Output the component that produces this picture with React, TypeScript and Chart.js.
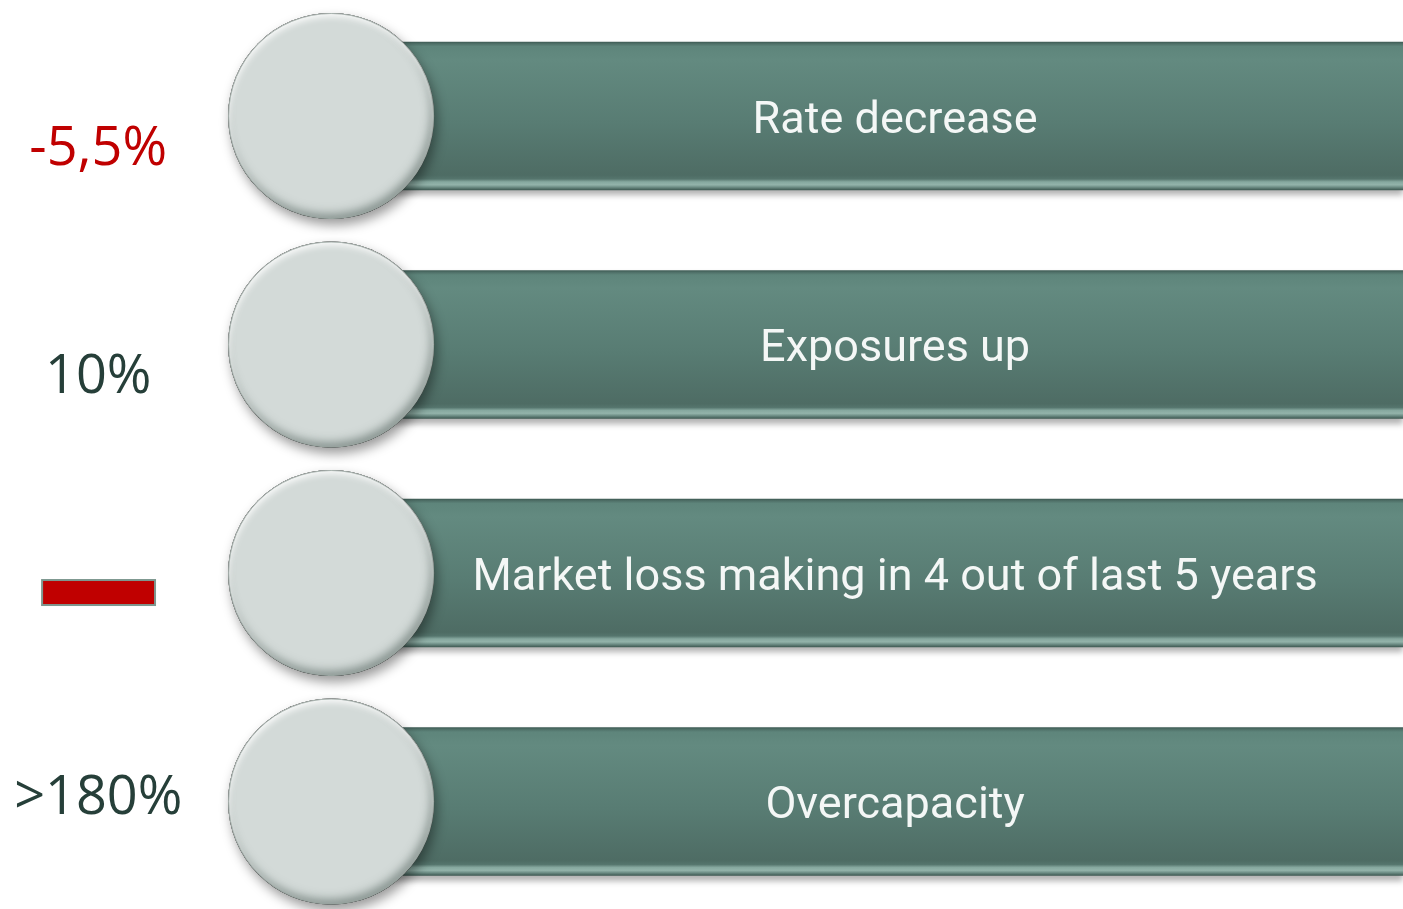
import React, { useEffect, useRef } from 'react';
import { Chart, registerables } from 'chart.js';

Chart.register(...registerables);

// ---- data ----
const rowLabels = [
  'Rate decrease',
  'Exposures up',
  'Market loss making in 4 out of last 5 years',
  'Overcapacity',
];
const rowIndex = [0, 1, 2, 3];
const sideLabels = ['-5,5%', '10%', '', '>180%'];
const sideIsMarker = [false, false, true, false];
const sideColors = ['#c00000', '#263f39', '#c00000', '#263f39'];

// ---- layout (value-space positions on a 0..100 horizontal scale) ----
const LAYOUT = {
  barStart: 26,
  barEnd: 100,
  circleX: 23.6,
  textX: 63.8,
  sideX: 7.0,
  markerFrom: 3.0,
  markerTo: 11.05,
  sideBaselineOffsets: [49, 48.5, 0, 12],
  markerTop: 7,
  markerBottom: 32,
};

const barColor = (c: any) => {
  const chart = c.chart;
  const ys = chart.scales && chart.scales.y;
  if (!ys || c.type !== 'data') return '#5a7e74';
  const yc = ys.getPixelForValue(rowIndex[c.dataIndex]);
  if (!isFinite(yc)) return '#5a7e74';
  const top = yc - 74;
  const bot = yc + 74;
  const g = chart.ctx.createLinearGradient(0, top, 0, bot);
  g.addColorStop(0, '#3f5c55');
  g.addColorStop(0.012, '#4f7068');
  g.addColorStop(0.03, '#5e857b');
  g.addColorStop(0.12, '#638a80');
  g.addColorStop(0.55, '#587c73');
  g.addColorStop(0.9, '#4e6c64');
  g.addColorStop(0.925, '#55756d');
  g.addColorStop(0.945, '#86a89f');
  g.addColorStop(0.965, '#93b3aa');
  g.addColorStop(0.98, '#6f8f87');
  g.addColorStop(1, '#3f5a53');
  return g;
};

const decorPlugin = {
  id: 'decor',
  beforeDatasetDraw(chart: any, args: any) {
    const ctx = chart.ctx;
    ctx.save();
    const type = chart.data.datasets[args.index].type;
    if (type === 'bar') {
      ctx.shadowColor = 'rgba(0,0,0,0.30)';
      ctx.shadowBlur = 6;
      ctx.shadowOffsetX = 0;
      ctx.shadowOffsetY = 5;
    } else if (type === 'bubble') {
      ctx.shadowColor = 'rgba(0,0,0,0.40)';
      ctx.shadowBlur = 12;
      ctx.shadowOffsetX = 3;
      ctx.shadowOffsetY = 6;
    }
  },
  afterDatasetDraw(chart: any, args: any) {
    const ctx = chart.ctx;
    ctx.restore();
    const type = chart.data.datasets[args.index].type;
    if (type !== 'bubble') return;
    const meta = chart.getDatasetMeta(args.index);
    meta.data.forEach((el: any) => {
      const x = el.x;
      const y = el.y;
      const r = el.options.radius;
      ctx.save();
      ctx.beginPath();
      ctx.arc(x, y, r, 0, Math.PI * 2);
      ctx.clip();
      // dark inner shadow (lower right)
      ctx.beginPath();
      ctx.rect(x - r - 60, y - r - 60, 2 * r + 120, 2 * r + 120);
      ctx.arc(x, y, r, 0, Math.PI * 2, true);
      ctx.fillStyle = '#000';
      ctx.shadowColor = 'rgba(70,85,80,0.55)';
      ctx.shadowBlur = 10;
      ctx.shadowOffsetX = -3;
      ctx.shadowOffsetY = -5;
      ctx.fill();
      // light inner highlight (upper left)
      ctx.beginPath();
      ctx.rect(x - r - 60, y - r - 60, 2 * r + 120, 2 * r + 120);
      ctx.arc(x, y, r, 0, Math.PI * 2, true);
      ctx.shadowColor = 'rgba(255,255,255,0.9)';
      ctx.shadowBlur = 6;
      ctx.shadowOffsetX = 1;
      ctx.shadowOffsetY = 4;
      ctx.fill();
      ctx.restore();
      ctx.save();
      ctx.beginPath();
      ctx.arc(x, y, r - 0.5, 0, Math.PI * 2);
      ctx.strokeStyle = 'rgba(150,162,158,0.8)';
      ctx.lineWidth = 1;
      ctx.stroke();
      ctx.restore();
    });
  },
  afterDatasetsDraw(chart: any) {
    const ctx = chart.ctx;
    const xs = chart.scales.x;
    const ys = chart.scales.y;
    ctx.save();
    // bar texts
    ctx.fillStyle = '#f4f7f6';
    ctx.font = '45px Roboto';
    ctx.textAlign = 'center';
    ctx.textBaseline = 'alphabetic';
    rowLabels.forEach((t, i) => {
      const yc = ys.getPixelForValue(rowIndex[i]);
      ctx.fillText(t, xs.getPixelForValue(LAYOUT.textX), yc + 16.5);
    });
    // side labels
    ctx.font = '54px "Open Sans"';
    sideLabels.forEach((t, i) => {
      const yc = ys.getPixelForValue(rowIndex[i]);
      if (sideIsMarker[i]) {
        const x0 = xs.getPixelForValue(LAYOUT.markerFrom);
        const x1 = xs.getPixelForValue(LAYOUT.markerTo);
        ctx.fillStyle = sideColors[i];
        ctx.fillRect(x0, yc + LAYOUT.markerTop, x1 - x0, LAYOUT.markerBottom - LAYOUT.markerTop);
        ctx.strokeStyle = '#7d978f';
        ctx.lineWidth = 2;
        ctx.strokeRect(x0, yc + LAYOUT.markerTop, x1 - x0, LAYOUT.markerBottom - LAYOUT.markerTop);
      } else {
        ctx.fillStyle = sideColors[i];
        ctx.fillText(t, xs.getPixelForValue(LAYOUT.sideX), yc + LAYOUT.sideBaselineOffsets[i]);
      }
    });
    ctx.restore();
  },
};

export default function App() {
  const ref = useRef<HTMLCanvasElement | null>(null);
  useEffect(() => {
    document.body.style.margin = '0';
    document.body.style.background = '#ffffff';
    const canvas = ref.current;
    if (!canvas) return;
    const chart = new Chart(canvas, {
      type: 'bar',
      data: {
        datasets: [
          {
            type: 'bar',
            order: 2,
            data: rowIndex.map((r) => ({ x: [LAYOUT.barStart, LAYOUT.barEnd], y: r })) as any,
            backgroundColor: barColor as any,
            borderWidth: 0,
            barThickness: 148,
          } as any,
          {
            type: 'bubble',
            order: 1,
            data: rowIndex.map((r) => ({ x: LAYOUT.circleX, y: r, r: 103 })),
            backgroundColor: '#d3dad8',
            borderWidth: 0,
            hoverRadius: 0,
            clip: false,
          } as any,
        ],
      },
      options: {
        indexAxis: 'y',
        responsive: false,
        animation: false,
        devicePixelRatio: 1,
        layout: { padding: 0, autoPadding: false },
        events: [],
        plugins: {
          legend: { display: false },
          tooltip: { enabled: false },
        },
        scales: {
          x: { type: 'linear', min: 0, max: 100, display: false, offset: false },
          y: { type: 'linear', min: -0.5077, max: 3.4703, reverse: true, display: false, offset: false },
        },
      } as any,
      plugins: [decorPlugin],
    });
    return () => chart.destroy();
  }, []);
  return (
    <div style={{ width: 1403, height: 909, background: '#fff', overflow: 'hidden' }}>
      <canvas ref={ref} width={1403} height={909} style={{ display: 'block' }} />
    </div>
  );
}
